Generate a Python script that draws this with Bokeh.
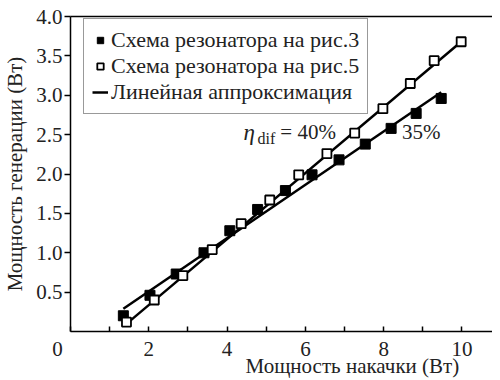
from bokeh.plotting import figure
from bokeh.models import Range1d, LinearAxis, FixedTicker, Legend, LegendItem, Label
from bokeh.embed import file_html
from bokeh.resources import INLINE

# ---- data ----
pump3 = [1.35, 2.03, 2.70, 3.41, 4.07, 4.78, 5.49, 6.17, 6.86, 7.53, 8.19, 8.83, 9.47]
gen3 = [0.20, 0.46, 0.73, 1.00, 1.28, 1.55, 1.79, 1.99, 2.18, 2.38, 2.58, 2.77, 2.96]
pump5 = [1.43, 2.14, 2.87, 3.62, 4.36, 5.09, 5.83, 6.55, 7.26, 7.98, 8.68, 9.29, 9.98]
gen5 = [0.12, 0.40, 0.71, 1.04, 1.37, 1.67, 1.99, 2.26, 2.52, 2.83, 3.15, 3.44, 3.68]
fit3_x = [1.35, 9.47]
fit3_y = [0.29, 3.04]
fit5_x = [1.46, 9.98]
fit5_y = [0.11, 3.68]
x_ticks = [0, 2, 4, 6, 8, 10]
x_minor = [1, 3, 5, 7, 9]
x_tick_labels = {0: "0" + "\u00a0" * 5, 2: "2", 4: "4", 6: "6", 8: "8", 10: "10"}
y_ticks = [0.5, 1.0, 1.5, 2.0, 2.5, 3.0, 3.5, 4.0]
y_tick_labels = {0.5: "0.5", 1.0: "1.0", 1.5: "1.5", 2.0: "2.0", 2.5: "2.5",
                 3.0: "3.0", 3.5: "3.5", 4.0: "4.0"}
labels = ["Схема резонатора на рис.3", "Схема резонатора на рис.5", "Линейная аппроксимация"]
x_title = "Мощность накачки (Вт)"
y_title = "Мощность генерации (Вт)"
eff5 = "= 40%"
eff3 = "35%"

FONT = "Times New Roman"
FS = "21px"
TXT = "#222222"

p = figure(width=492, height=380, output_backend="svg", toolbar_location=None,
           x_range=Range1d(0, 10.78), y_range=Range1d(0, 4.001),
           min_border_left=69, min_border_right=0, min_border_top=16,
           min_border_bottom=44)
p.grid.visible = False
p.outline_line_color = None

# x axis
xa = p.xaxis[0]
xa.ticker = FixedTicker(ticks=x_ticks, minor_ticks=x_minor)
xa.major_label_overrides = x_tick_labels
xa.major_label_text_font = FONT
xa.major_label_text_font_size = FS
xa.major_label_text_font_style = "normal"
xa.major_label_text_color = TXT
xa.major_label_standoff = 5
xa.major_tick_in = 5
xa.major_tick_out = 0
xa.minor_tick_in = 5
xa.minor_tick_out = 0
xa.axis_line_width = 1.5
xa.major_tick_line_width = 1.5
xa.minor_tick_line_width = 1.5
xa.axis_label = "\u00a0" * 27 + x_title
xa.axis_label_text_font = FONT
xa.axis_label_text_font_size = FS
xa.axis_label_text_font_style = "normal"
xa.axis_label_text_color = TXT
xa.axis_label_standoff = -10

# y axis
ya = p.yaxis[0]
ya.ticker = FixedTicker(ticks=y_ticks, minor_ticks=[])
ya.major_label_overrides = y_tick_labels
ya.major_label_text_font = FONT
ya.major_label_text_font_size = FS
ya.major_label_text_font_style = "normal"
ya.major_label_text_color = TXT
ya.major_tick_in = 0
ya.major_tick_out = 6
ya.major_label_standoff = 2
ya.axis_line_width = 1.5
ya.major_tick_line_width = 1.5
ya.axis_label = y_title
ya.axis_label_text_font = FONT
ya.axis_label_text_font_size = FS
ya.axis_label_text_font_style = "normal"
ya.axis_label_text_color = TXT
ya.axis_label_standoff = 6

# top frame line
top = LinearAxis(ticker=FixedTicker(ticks=[]), major_label_text_font_size="0px",
                 major_tick_in=0, major_tick_out=0, minor_tick_in=0, minor_tick_out=0,
                 axis_line_width=1.5, major_label_standoff=0)
p.add_layout(top, "above")

# fit lines
l3 = p.line(fit3_x, fit3_y, line_color="black", line_width=2.5)
l5 = p.line(fit5_x, fit5_y, line_color="black", line_width=2.5)

# points
s3 = p.scatter(pump3, gen3, marker="square", size=10, fill_color="black",
               line_color="black", line_width=1)
s5 = p.scatter(pump5, gen5, marker="square", size=9, fill_color="white",
               line_color="black", line_width=1.8)

legend = Legend(items=[LegendItem(label=labels[0], renderers=[s3]),
                       LegendItem(label=labels[1], renderers=[s5]),
                       LegendItem(label=labels[2], renderers=[l3])],
                location=(13, 217))
legend.label_text_font = FONT
legend.label_text_font_size = "22px"
legend.label_text_font_style = "normal"
legend.label_text_color = TXT
legend.border_line_color = "#333333"
legend.border_line_width = 1.2
legend.padding = 8
legend.spacing = 0
legend.margin = 0
legend.glyph_width = 16
legend.glyph_height = 26
legend.label_height = 26
legend.label_standoff = 3
p.add_layout(legend)

# efficiency annotations
p.add_layout(Label(x=4.42, y=2.53, text="η", text_font=FONT, text_font_size="23px",
                   text_font_style="italic", text_align="left", text_baseline="middle",
                   text_color=TXT))
p.add_layout(Label(x=4.78, y=2.45, text="dif", text_font=FONT, text_font_size="16px",
                   text_font_style="normal", text_align="left", text_baseline="middle",
                   text_color=TXT))
p.add_layout(Label(x=5.36, y=2.53, text=eff5, text_font=FONT, text_font_size=FS,
                   text_font_style="normal", text_align="left", text_baseline="middle",
                   text_color=TXT))
p.add_layout(Label(x=8.47, y=2.53, text=eff3, text_font=FONT, text_font_size=FS,
                   text_font_style="normal", text_align="left", text_baseline="middle",
                   text_color=TXT))

open("out.html", "w").write(file_html(p, INLINE))
